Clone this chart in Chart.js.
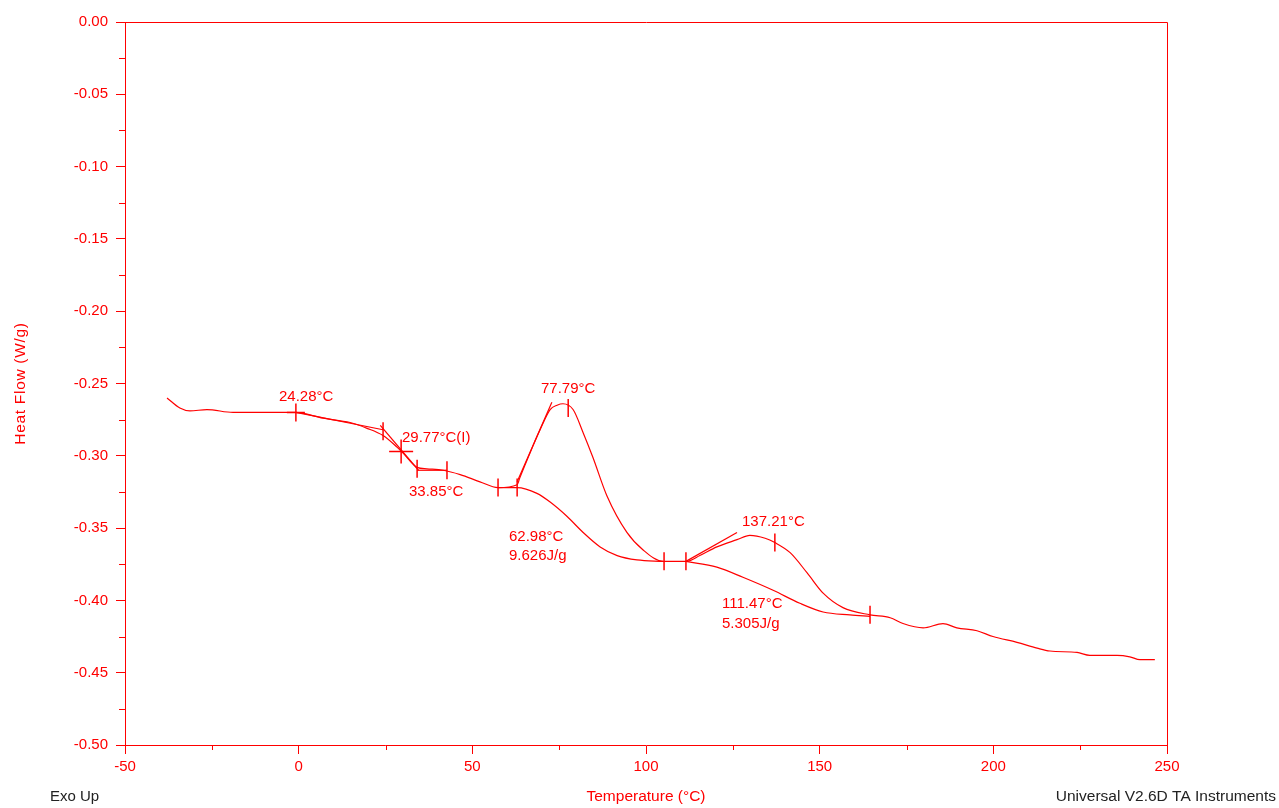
<!DOCTYPE html>
<html>
<head>
<meta charset="utf-8">
<script src="https://cdn.jsdelivr.net/npm/chart.js@4.4.1/dist/chart.umd.min.js"></script>
<style>
html,body{margin:0;padding:0;background:#fff;}
canvas{display:block;}
</style>
</head>
<body>
<canvas id="c" width="1279" height="808"></canvas>
<script>
// ---- data ----
const tempMain = [-37.9,-34.2,-31.3,-26.4,-18.9,-10.3,-1.1,7.0,14.8,19.7,24.3,28.3,30.0,34.1,36.9,41.6,46.5,52.2,57.4,62.9,63.7,66.6,69.5,72.4,74.4,76.1,79.0,81.9,84.7,88.8,94.5,99.1,104.9,111.8,115.5,120.4,126.2,129.9,134.3,137.1,141.5,146.4,151.0,156.7,164.5,170.3,174.0,179.8,185.5,189.5,195.3,199.9,206.8,212.6,216.3,224.1,227.8,235.6,239.3,242.2,246.5];
const hfMain = [-0.260,-0.267,-0.269,-0.268,-0.270,-0.270,-0.270,-0.274,-0.277,-0.281,-0.286,-0.294,-0.298,-0.308,-0.309,-0.310,-0.313,-0.318,-0.322,-0.320,-0.315,-0.298,-0.282,-0.268,-0.265,-0.264,-0.268,-0.284,-0.301,-0.328,-0.353,-0.365,-0.373,-0.373,-0.369,-0.363,-0.358,-0.355,-0.357,-0.360,-0.367,-0.381,-0.395,-0.405,-0.410,-0.412,-0.416,-0.419,-0.416,-0.419,-0.421,-0.425,-0.429,-0.433,-0.435,-0.436,-0.438,-0.438,-0.439,-0.441,-0.441];

const tempBase1 = [57.4,62.9,68.6,72.4,77.3,81.9,86.8,91.7,97.4,104.9];
const hfBase1 = [-0.322,-0.322,-0.326,-0.332,-0.342,-0.353,-0.363,-0.369,-0.372,-0.373];
const tempBase2 = [111.5,120.4,127.9,136.6,144.3,151.0,158.7,164.5];
const hfBase2 = [-0.373,-0.377,-0.384,-0.393,-0.402,-0.408,-0.410,-0.411];

const tempGlassTanA = [-0.8,24.3];   const hfGlassTanA = [-0.270,-0.282];
const tempGlassTanB = [23.5,34.5];   const hfGlassTanB = [-0.279,-0.310];
const tempGlassTanC = [34.1,42.7];   const hfGlassTanC = [-0.310,-0.310];
const tempPeak1Tan = [62.9,72.9];    const hfPeak1Tan = [-0.318,-0.263];
const tempPeak2Tan = [111.5,126.2];  const hfPeak2Tan = [-0.373,-0.353];

const tempTickMarks = [24.3,34.1,42.7,57.4,62.9,77.6,105.2,111.5,137.1,164.5];
const hfTickMarks = [-0.283,-0.309,-0.310,-0.322,-0.322,-0.267,-0.373,-0.373,-0.360,-0.410];
const tempCrossMarks = [-0.8,29.5];
const hfCrossMarks = [-0.270,-0.297];
const crossSizes = [9,12];

const annotText = ["24.28°C","29.77°C(I)","33.85°C","77.79°C","62.98°C","9.626J/g","137.21°C","111.47°C","5.305J/g"];
const annotT = [-5.66,29.75,31.77,69.77,60.56,60.56,127.64,121.88,121.88];
const annotHF = [-0.2593,-0.2877,-0.3250,-0.2538,-0.3562,-0.3693,-0.3458,-0.4025,-0.4163];

const xTicks = [-50,0,50,100,150,200,250];
const yTicks = [-0.50,-0.45,-0.40,-0.35,-0.30,-0.25,-0.20,-0.15,-0.10,-0.05,0.00];
const xMinor = [-25,25,75,125,175,225];
const yMinor = [-0.475,-0.425,-0.375,-0.325,-0.275,-0.225,-0.175,-0.125,-0.075,-0.025];

// ---- build ----
const RED = '#ff0000';
const FONT = "'Liberation Sans', Arial, sans-serif";
const zip = (a,b) => a.map((v,i)=>({x:v,y:b[i]}));
const lineDs = (t,h,extra) => Object.assign({data:zip(t,h),showLine:true,pointRadius:0,borderColor:RED,borderWidth:1.2,fill:false}, extra||{});

const datasets = [
  lineDs(tempMain,hfMain,{cubicInterpolationMode:'monotone'}),
  lineDs(tempBase1,hfBase1,{cubicInterpolationMode:'monotone'}),
  lineDs(tempBase2,hfBase2,{cubicInterpolationMode:'monotone'}),
  lineDs(tempGlassTanA,hfGlassTanA),
  lineDs(tempGlassTanB,hfGlassTanB),
  lineDs(tempGlassTanC,hfGlassTanC),
  lineDs(tempPeak1Tan,hfPeak1Tan),
  lineDs(tempPeak2Tan,hfPeak2Tan),
  {data:zip(tempTickMarks,hfTickMarks),showLine:false,pointStyle:'line',rotation:90,pointRadius:9,borderColor:RED,backgroundColor:RED,pointBorderWidth:1.5},
  {data:zip(tempCrossMarks,hfCrossMarks),showLine:false,pointStyle:'cross',pointRadius:crossSizes,borderColor:RED,backgroundColor:RED,pointBorderWidth:1.5}
];

const decor = {
  id:'decor',
  afterDraw(chart){
    const ctx = chart.ctx, a = chart.chartArea, xs = chart.scales.x, ys = chart.scales.y;
    ctx.save();
    ctx.strokeStyle = RED; ctx.lineWidth = 1;
    ctx.beginPath();
    ctx.moveTo(Math.round(a.left)+0.5, Math.round(a.top)+0.5);
    ctx.lineTo(Math.round(a.right)+0.5, Math.round(a.top)+0.5);
    ctx.lineTo(Math.round(a.right)+0.5, Math.round(a.bottom)+0.5);
    ctx.stroke();
    ctx.beginPath();
    xMinor.forEach(v=>{const p=Math.round(xs.getPixelForValue(v))+0.5; ctx.moveTo(p,a.bottom); ctx.lineTo(p,a.bottom+5);});
    yMinor.forEach(v=>{const p=Math.round(ys.getPixelForValue(v))+0.5; ctx.moveTo(a.left-6,p); ctx.lineTo(a.left,p);});
    ctx.stroke();
    // annotations
    ctx.fillStyle = RED;
    ctx.font = "15px " + FONT;
    ctx.textAlign = 'left'; ctx.textBaseline = 'middle';
    annotText.forEach((s,i)=>{ ctx.fillText(s, xs.getPixelForValue(annotT[i]), ys.getPixelForValue(annotHF[i])); });
    // axis titles
    ctx.font = "15.5px " + FONT;
    ctx.textAlign = 'center';
    ctx.fillText('Temperature (°C)', (a.left+a.right)/2, 797);
    ctx.save();
    ctx.translate(21, (a.top+a.bottom)/2);
    ctx.rotate(-Math.PI/2);
    ctx.letterSpacing = '0.7px';
    ctx.fillText('Heat Flow (W/g)', 0, 0);
    ctx.restore();
    ctx.fillStyle = '#222';
    ctx.textAlign = 'right';
    ctx.fillText('Universal V2.6D TA Instruments', 1276, 797);
    ctx.font = "15px " + FONT;
    ctx.textAlign = 'left';
    ctx.fillText('Exo Up', 50, 797);
    ctx.restore();
  }
};

new Chart(document.getElementById('c'), {
  type:'scatter',
  data:{datasets},
  options:{
    responsive:false, animation:false, devicePixelRatio:1,
    layout:{padding:{left:0,top:22,right:112,bottom:0}},
    plugins:{legend:{display:false},tooltip:{enabled:false}},
    scales:{
      x:{type:'linear',min:-50,max:250,
        afterBuildTicks:s=>{s.ticks = xTicks.map(v=>({value:v}));},
        afterFit:s=>{s.height = 63;},
        ticks:{color:RED,font:{family:FONT,size:15},padding:4,callback:v=>String(v)},
        grid:{drawOnChartArea:false,color:RED,tickLength:9,lineWidth:1},
        border:{color:RED,width:1}},
      y:{type:'linear',min:-0.5,max:0,
        afterBuildTicks:s=>{s.ticks = yTicks.map(v=>({value:v}));},
        afterFit:s=>{s.width = 125;},
        ticks:{color:RED,font:{family:FONT,size:15},padding:8,callback:v=>Number(v).toFixed(2)},
        grid:{drawOnChartArea:false,color:RED,tickLength:9,lineWidth:1},
        border:{color:RED,width:1}}
    }
  },
  plugins:[decor]
});
</script>
</body>
</html>
